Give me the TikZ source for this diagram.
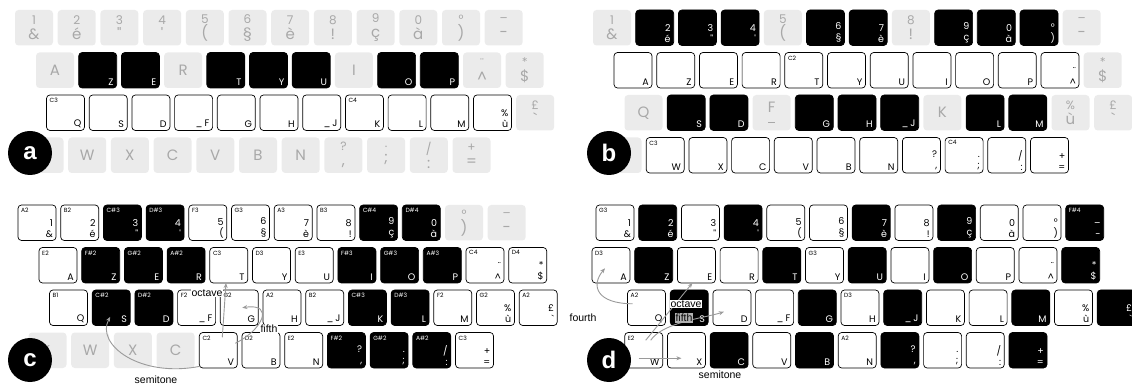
\documentclass[tikz,border=0pt]{standalone}
\usepackage{fontspec}
\setmainfont{Liberation Sans}
\newfontfamily\keyfont{Poppins}
\usetikzlibrary{arrows.meta}

\definecolor{keygray}{HTML}{EBEBEB}
\definecolor{offgray}{HTML}{A8A8A8}
\definecolor{arrowgray}{HTML}{9A9A9A}

% key faces: active keys print at bottom right, disabled keys centred
\newcommand{\twoon}[2]{#1\\#2}
\newcommand{\twooff}[2]{\fontsize{12}{13}\selectfont#1\\#2}
\newcommand{\bumpon}[1]{\_\hspace{2pt}#1}
\newcommand{\bumpoff}[1]{#1\\[-5pt]\rule{7pt}{0.6pt}}
\newcommand{\offfont}{\keyfont\fontsize{15}{15}\selectfont\let\two\twooff\let\bump\bumpoff}
\newcommand{\onfont}{\keyfont\fontsize{9.5}{11}\selectfont\let\two\twoon\let\bump\bumpon}
\newcommand{\pitch}{42.7}

% characters of the AZERTY rows
\newcommand{\defrow}[2]{%
  \foreach \ch [count=\i from 0] in {#2}{%
    \expandafter\xdef\csname kc#1-\i\endcsname{\expandafter\unexpanded\expandafter{\ch}}}}
\defrow{1}{{\two{1}{\&}},{\two{2}{é}},{\two{3}{"}},{\two{4}{'}},{\two{5}{(}},{\two{6}{§}},{\two{7}{è}},{\two{8}{!}},{\two{9}{ç}},{\two{0}{à}},{\two{°}{)}},{\two{–}{-}}}
\defrow{2}{A,Z,E,R,T,Y,U,I,O,P,{\two{¨}{\textasciicircum}},{\two{*}{\$}}}
\defrow{3}{Q,S,D,{\bump{F}},G,H,{\bump{J}},K,L,M,{\two{\%}{ù}},{\two{£}{\textasciigrave}}}
\defrow{4}{<,W,X,C,V,B,N,{\two{?}{,}},{\two{.}{;}},{\two{/}{:}},{\two{+}{=}}}

% one row of keys: panel, row, x, y, state/note list
\newcommand{\kbrow}[5]{%
  \foreach \s/\n [count=\i from 0] in {#5}{%
    \expandafter\let\expandafter\kt\csname kc#2-\i\endcsname
    \let\kn\n
    \node[\s] (#1#2-\i) at ({#3+\i*\pitch},{#4}) {};}}
\newcommand{\panel}[7]{%
  \kbrow{#1}{1}{#2+15}{#3+10}{#4}
  \kbrow{#1}{2}{#2+36}{#3+52.5}{#5}
  \kbrow{#1}{3}{#2+46.5}{#3+95}{#6}
  \kbrow{#1}{4}{#2+25.5}{#3+137.5}{#7}}

\begin{document}
\begin{tikzpicture}[
    x=1pt, y=-1pt,
    key/.style={rectangle, rounded corners=3.5pt, minimum width=38pt, minimum height=35.5pt, inner sep=0pt, outer sep=0pt, anchor=north west},
    off/.style={key, fill=keygray, label={[offtxt]center:\kt}},
    none/.style={key},
    wht/.style={key, fill=white, draw=black, line width=0.7pt, label={[ontxt]south east:\kt}, label={[notetxt]north west:\kn}},
    blk/.style={key, fill=black, draw=black, line width=0.7pt, label={[ontxt, text=white]south east:\kt}, label={[notetxt, text=white]north west:\kn}},
    offtxt/.style={anchor=center, align=center, text=offgray, font=\offfont, inner sep=0pt},
    ontxt/.style={anchor=south east, align=right, font=\onfont, inner xsep=3pt, inner ysep=2.5pt},
    notetxt/.style={anchor=north west, font=\keyfont\fontsize{6}{6}\selectfont, inner xsep=3pt, inner ysep=3pt},
    panellab/.style={circle, fill=black, text=white, minimum size=44pt, inner sep=0pt, font=\bfseries\fontsize{24}{24}\selectfont},
    interval/.style={-{Stealth[length=5pt, width=4pt]}, draw=arrowgray, line width=0.9pt},
    intlab/.style={font=\fontsize{10.5}{11}\selectfont, fill=white, inner sep=0.8pt}
]
\useasboundingbox (0,0) rectangle (1132,387);

% a: white and black keys of a piano
\panel{a}{0}{0}
  {off/{},off/{},off/{},off/{},off/{},off/{},off/{},off/{},off/{},off/{},off/{},off/{}}
  {off/{},blk/{},blk/{},off/{},blk/{},blk/{},blk/{},off/{},blk/{},blk/{},off/{},off/{}}
  {wht/C3,wht/{},wht/{},wht/{},wht/{},wht/{},wht/{},wht/C4,wht/{},wht/{},wht/{},off/{}}
  {off/{},off/{},off/{},off/{},off/{},off/{},off/{},off/{},off/{},off/{},off/{}}

% b: two octaves
\panel{b}{578}{0}
  {off/{},blk/{},blk/{},blk/{},off/{},blk/{},blk/{},off/{},blk/{},blk/{},blk/{},off/{}}
  {wht/{},wht/{},wht/{},wht/{},wht/C2,wht/{},wht/{},wht/{},wht/{},wht/{},wht/{},off/{}}
  {off/{},blk/{},blk/{},off/{},blk/{},blk/{},blk/{},off/{},blk/{},blk/{},off/{},off/{}}
  {off/{},wht/C3,wht/{},wht/{},wht/{},wht/{},wht/{},wht/{},wht/C4,wht/{},wht/{}}

% c: whole-tone rows
\panel{c}{3}{195}
  {wht/A2,wht/B2,blk/C\#3,blk/D\#3,wht/F3,wht/G3,wht/A3,wht/B3,blk/C\#4,blk/D\#4,off/{},off/{}}
  {wht/E2,blk/F\#2,blk/G\#2,blk/A\#2,wht/C3,wht/D3,wht/E3,blk/F\#3,blk/G\#3,blk/A\#3,wht/C4,wht/D4}
  {wht/B1,blk/C\#2,blk/D\#2,wht/F2,wht/G2,wht/A2,wht/B2,blk/C\#3,blk/D\#3,wht/F2,wht/G2,wht/A2}
  {off/{},off/{},off/{},off/{},wht/C2,wht/D2,wht/E2,blk/F\#2,blk/G\#2,blk/A\#2,wht/C3}

% d: chromatic rows a fourth apart
\kbrow{d}{1}{596}{205}
  {wht/G3,blk/{},wht/{},blk/{},wht/{},wht/{},blk/{},wht/{},blk/{},wht/{},wht/{},blk/F\#4}
\kbrow{d}{2}{592}{247.5}
  {wht/D3,blk/{},wht/{},wht/{},blk/{},wht/G3,blk/{},wht/{},blk/{},wht/{},wht/{},blk/{}}
\kbrow{d}{3}{627.5}{290}
  {wht/A2,blk/{},wht/{},wht/{},blk/{},wht/D3,blk/{},wht/{},wht/{},blk/{},wht/{},blk/{}}
\kbrow{d}{4}{582}{332.5}
  {none/{},wht/E2,wht/{},blk/{},wht/{},blk/{},wht/A2,blk/{},wht/{},wht/{},blk/{}}

% intervals in c
\draw[interval] ([shift={(-18,16)}]c4-4.center) .. controls +(-60,12) and +(-15,28) .. ([shift={(-1,9)}]c3-1.center);
\draw[interval] ([shift={(4,-13)}]c4-4.center) -- ([xshift=-2.8pt]c2-4.south);
\draw[interval] ([shift={(17,-7)}]c4-4.center) .. controls +(27,-13) and +(33,-5) .. ([shift={(3,0)}]c3-4.center);
\node[intlab] (c-oct) at (207,293) {octave};
\node[intlab] (c-fif) at (269,329) {fifth};
\node[intlab] (c-semi) at (156,380) {semitone};

% intervals in d
\draw[interval] ([shift={(-14,-4)}]d3-0.center) .. controls +(-35,0) and +(-15,18) .. ([shift={(-6,3)}]d2-0.center);
\draw[interval] ([shift={(2,-10)}]d4-1.center) -- ([xshift=-4pt]d2-2.south);
\draw[interval] ([shift={(7,-10)}]d4-1.center) .. controls +(12,-18) and +(-18,6) .. ([shift={(-8,4)}]d3-2.center);
\draw[interval] ([shift={(-5,8)}]d4-1.center) -- ([shift={(-5,8)}]d4-2.center);
\node[intlab] (d-four) at (583,318) {fourth};
\node[intlab] (d-oct) at (686,304) {octave};
\node[intlab, fill=black!30] (d-fif) at (684,318) {fifth};
\node[intlab] (d-semi) at (720,375) {semitone};

\node[panellab] (la) at (30,153) {a};
\node[panellab] (lb) at (609,153) {b};
\node[panellab] (lc) at (30,360) {c};
\node[panellab] (ld) at (609,360) {d};
\end{tikzpicture}
\end{document}
